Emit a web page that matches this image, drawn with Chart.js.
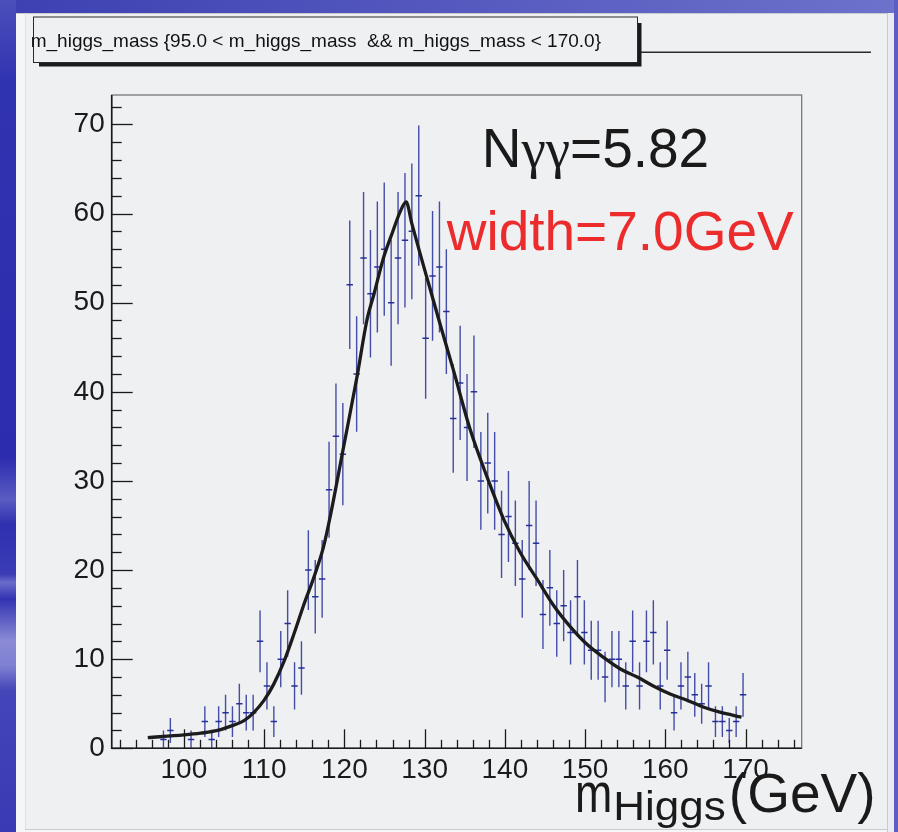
<!DOCTYPE html>
<html><head><meta charset="utf-8">
<script src="https://cdn.jsdelivr.net/npm/chart.js@4/dist/chart.umd.min.js"></script>
<style>
html,body{margin:0;padding:0;background:#3436b2;overflow:hidden;}
#wrap{position:absolute;left:0;top:0;width:898px;height:832px;}
canvas{display:block;}
</style></head><body>
<div id="wrap"><canvas id="c" width="898" height="832"></canvas></div>
<script>
// ---- data ----
const binCenters = [97.45,98.31,100.89,102.61,103.47,104.33,105.19,106.05,106.91,107.77,108.63,109.49,110.35,111.21,112.07,112.93,113.79,114.65,115.51,116.37,117.23,118.09,118.95,119.81,120.67,121.53,122.39,123.25,124.11,124.97,125.83,126.69,127.55,128.41,129.27,130.13,130.99,131.85,132.71,133.57,134.43,135.29,136.15,137.01,137.87,138.73,139.59,140.45,141.31,142.17,143.03,143.89,144.75,145.61,146.47,147.33,148.19,149.05,149.91,150.77,151.63,152.49,153.35,154.21,155.07,155.93,156.79,157.65,158.51,159.37,160.23,161.09,161.95,162.81,163.67,164.53,165.39,166.25,167.11,167.97,168.83,169.69];
const counts = [1,2,1,3,1,3,4,3,5,4,4,12,7,3,10,14,7,9,20,17,19,29,35,33,52,42,55,51,54,56,50,55,57,58,62,46,53,54,49,37,41,36,40,30,32,30,24,26,23,19,25,23,15,18,14,16,13,17,13,11,11,8,10,10,7,12,7,12,13,7,11,4,7,8,6,5,7,3,3,2,3,6];
const errors = [1,1.41,1,1.73,1,1.73,2,1.73,2.24,2,2,3.46,2.65,1.73,3.16,3.74,2.65,3,4.47,4.12,4.36,5.39,5.92,5.74,7.21,6.48,7.42,7.14,7.35,7.48,7.07,7.42,7.55,7.62,7.87,6.78,7.28,7.35,7,6.08,6.4,6,6.32,5.48,5.66,5.48,4.9,5.1,4.8,4.36,5,4.8,3.87,4.24,3.74,4,3.61,4.12,3.61,3.32,3.32,2.83,3.16,3.16,2.65,3.46,2.65,3.46,3.61,2.65,3.32,2,2.65,2.83,2.45,2.24,2.65,1.73,1.73,1.41,1.73,2.45];
const fitX = [95.5,100.0,102.1,104.2,106.2,107.5,108.7,110.0,111.2,112.5,113.7,114.9,116.2,117.4,118.3,119.9,121.6,122.8,123.7,124.9,126.0,127.0,127.7,128.4,129.5,130.7,131.7,133.6,135.7,137.8,139.9,141.9,144.0,146.1,148.2,150.2,152.3,154.4,156.5,158.5,160.6,162.7,164.8,166.8,169.5];
const fitY = [1.2,1.5,1.7,2.0,2.6,3.1,4.0,5.4,7.2,9.8,12.8,16.0,19.2,22.6,26.3,33.8,41.8,48.0,51.0,55.1,57.9,60.3,61.3,58.9,55.3,51.5,48.3,42.4,35.7,30.4,25.6,22.0,19.0,16.0,13.6,11.7,10.2,8.9,8.0,7.0,6.1,5.4,4.6,4.05,3.5];
const xTickLabels = [100,110,120,130,140,150,160,170];
const yTickLabels = [0,10,20,30,40,50,60,70];
const titleText = 'm_higgs_mass {95.0 < m_higgs_mass  && m_higgs_mass < 170.0}';
const nggLabel = ['N', '\u03b3\u03b3', '=5.82'];
const widthLabel = 'width=7.0GeV';
const axisTitle = ['m', 'Higgs', '(GeV)'];

const SANS = '"Liberation Sans", Arial, Helvetica, sans-serif';
const SERIF = '"Liberation Serif", "Times New Roman", serif';

const bgPlugin = {
  id: 'bg',
  beforeDraw(chart) {
    const ctx = chart.ctx;
    ctx.save();
    const g = ctx.createLinearGradient(0, 0, 0, 832);
    g.addColorStop(0, '#4a4fbb'); g.addColorStop(0.1, '#3033b0'); g.addColorStop(0.55, '#2c2caf');
    g.addColorStop(0.6, '#5a5cc2'); g.addColorStop(0.63, '#2f30b0'); g.addColorStop(0.69, '#3a3bb5');
    g.addColorStop(0.7, '#6b6dca'); g.addColorStop(0.72, '#3333b2'); g.addColorStop(0.77, '#8a8ad6');
    g.addColorStop(0.8, '#7f80d2'); g.addColorStop(0.83, '#4445b8'); g.addColorStop(1, '#3a3ab4');
    ctx.fillStyle = g; ctx.fillRect(0, 0, 898, 832);
    const t = ctx.createLinearGradient(0, 0, 898, 0);
    t.addColorStop(0, '#3c40b2'); t.addColorStop(1, '#6d72cb');
    ctx.fillStyle = t; ctx.fillRect(16, 0, 882, 13);
    ctx.fillStyle = '#e9eaf2'; ctx.fillRect(887, 13, 11, 819);
    ctx.fillStyle = '#5c5ec4'; ctx.fillRect(894, 0, 4, 832);
    ctx.fillStyle = '#f5f6f8'; ctx.fillRect(16, 13, 871, 819);
    ctx.fillStyle = '#eff0f2'; ctx.fillRect(25, 13, 862, 816);
    ctx.strokeStyle = '#c9cace'; ctx.lineWidth = 1;
    ctx.beginPath(); ctx.moveTo(16, 13.5); ctx.lineTo(887, 13.5); ctx.stroke();
    ctx.beginPath(); ctx.moveTo(887.5, 13); ctx.lineTo(887.5, 832); ctx.stroke();
    ctx.beginPath(); ctx.moveTo(25, 829.5); ctx.lineTo(887, 829.5); ctx.stroke();
    ctx.strokeStyle = '#dfe0e4';
    ctx.beginPath(); ctx.moveTo(25.5, 13); ctx.lineTo(25.5, 829); ctx.stroke();
    ctx.restore();
  }
};

const errPlugin = {
  id: 'errbars',
  beforeDatasetsDraw(chart) {
    const ctx = chart.ctx, xs = chart.scales.x, ys = chart.scales.y, a = chart.chartArea;
    ctx.save();
    ctx.beginPath(); ctx.rect(a.left, a.top, a.right - a.left, a.bottom - a.top); ctx.clip();
    ctx.strokeStyle = 'rgba(38,48,155,0.85)';
    ctx.lineWidth = 1.4;
    binCenters.forEach((x, i) => {
      const px = xs.getPixelForValue(x);
      ctx.beginPath();
      ctx.moveTo(px, ys.getPixelForValue(counts[i] - errors[i]));
      ctx.lineTo(px, ys.getPixelForValue(counts[i] + errors[i]));
      ctx.stroke();
    });
    ctx.restore();
  }
};

function hscaleText(ctx, text, x, y, sx) {
  ctx.save();
  ctx.translate(x, y);
  ctx.scale(sx, 1);
  ctx.fillText(text, 0, 0);
  ctx.restore();
  return ctx.measureText(text).width * sx;
}

const framePlugin = {
  id: 'frame',
  afterDraw(chart) {
    const ctx = chart.ctx, xs = chart.scales.x, ys = chart.scales.y, a = chart.chartArea;
    ctx.save();
    ctx.strokeStyle = '#6e6e6e'; ctx.lineWidth = 1.2;
    ctx.strokeRect(a.left, a.top, a.right - a.left, a.bottom - a.top);
    ctx.strokeStyle = '#1a1a1a'; ctx.lineWidth = 1.6;
    ctx.beginPath(); ctx.moveTo(a.left, a.top); ctx.lineTo(a.left, a.bottom); ctx.lineTo(a.right, a.bottom); ctx.stroke();
    ctx.lineWidth = 1.3;
    for (let v = 0; v <= ys.max; v += 2) {
      const py = Math.round(ys.getPixelForValue(v)) + 0.5;
      const len = v % 10 === 0 ? 21 : 10;
      ctx.beginPath(); ctx.moveTo(a.left, py); ctx.lineTo(a.left + len, py); ctx.stroke();
    }
    for (let v = Math.ceil(xs.min / 2) * 2; v <= xs.max; v += 2) {
      const px = Math.round(xs.getPixelForValue(v)) + 0.5;
      const len = v % 10 === 0 ? 19 : 8.5;
      ctx.beginPath(); ctx.moveTo(px, a.bottom); ctx.lineTo(px, a.bottom - len); ctx.stroke();
    }
    // title box
    ctx.fillStyle = '#1a1a1a'; ctx.fillRect(39, 23, 602.5, 43.5);
    ctx.fillStyle = '#eff0f2'; ctx.fillRect(33.5, 17, 604, 45.5);
    ctx.strokeStyle = '#2a2a2a'; ctx.lineWidth = 1;
    ctx.strokeRect(33.5, 17, 604, 45.5);
    ctx.lineWidth = 1.5;
    ctx.beginPath(); ctx.moveTo(641, 52.3); ctx.lineTo(871, 52.3); ctx.stroke();
    ctx.fillStyle = '#111'; ctx.textBaseline = 'alphabetic'; ctx.textAlign = 'left';
    ctx.font = '19px ' + SANS;
    ctx.fillText(titleText, 30.7, 46.7);
    // N gamma gamma
    let x = 481.7;
    ctx.fillStyle = '#1a1a1a';
    ctx.font = '55px ' + SANS; ctx.fillText(nggLabel[0], x, 166.7); x += ctx.measureText(nggLabel[0]).width;
    ctx.font = '55px ' + SERIF; ctx.fillText(nggLabel[1], x, 166.7); x += ctx.measureText(nggLabel[1]).width;
    ctx.font = '55px ' + SANS; ctx.fillText(nggLabel[2], x, 166.7);
    // width
    ctx.fillStyle = '#ec2b2d';
    ctx.font = '55px ' + SANS; ctx.fillText(widthLabel, 446.7, 250);
    // axis title
    ctx.fillStyle = '#1a1a1a';
    x = 575;
    ctx.font = '56px ' + SANS; x += hscaleText(ctx, axisTitle[0], x, 811.7, 0.8);
    ctx.font = '40px ' + SANS; x += hscaleText(ctx, axisTitle[1], x + 1, 820, 1.1) + 4;
    ctx.font = '55px ' + SANS; ctx.fillText(axisTitle[2], x, 811.7);
    ctx.restore();
  }
};

new Chart(document.getElementById('c'), {
  type: 'scatter',
  data: {
    datasets: [
      {
        label: 'fit', type: 'line',
        data: fitX.map((x, i) => ({ x, y: fitY[i] })),
        borderColor: '#1c1c1c', borderWidth: 3.3, pointRadius: 0,
        cubicInterpolationMode: 'monotone', fill: false, order: 0
      },
      {
        label: 'm_higgs_mass',
        data: binCenters.map((x, i) => ({ x, y: counts[i] })),
        showLine: false, pointStyle: 'line', pointRadius: 3.2,
        borderColor: 'rgba(30,40,150,0.95)', borderWidth: 1.5, order: 1
      }
    ]
  },
  options: {
    responsive: false, animation: false, devicePixelRatio: 1,
    layout: { padding: { left: 0, top: 95, right: 96.3, bottom: 31.7 } },
    plugins: { legend: { display: false }, tooltip: { enabled: false } },
    scales: {
      x: {
        type: 'linear', min: 91, max: 177,
        afterBuildTicks(s) { s.ticks = xTickLabels.map(v => ({ value: v })); },
        afterFit(s) { s.height = 52; },
        grid: { display: false, drawTicks: false }, border: { display: false },
        ticks: {
          autoSkip: false, maxRotation: 0, minRotation: 0, padding: 5,
          color: '#1a1a1a', font: { family: SANS, size: 28 },
          callback: (v) => String(v)
        }
      },
      y: {
        type: 'linear', min: 0, max: 73.3,
        afterBuildTicks(s) { s.ticks = yTickLabels.map(v => ({ value: v })); },
        afterFit(s) { s.width = 111.7; },
        grid: { display: false, drawTicks: false }, border: { display: false },
        ticks: {
          autoSkip: false, padding: 7,
          color: '#1a1a1a', font: { family: SANS, size: 28 },
          callback: (v) => String(v)
        }
      }
    }
  },
  plugins: [bgPlugin, errPlugin, framePlugin]
});
</script>
</body></html>
